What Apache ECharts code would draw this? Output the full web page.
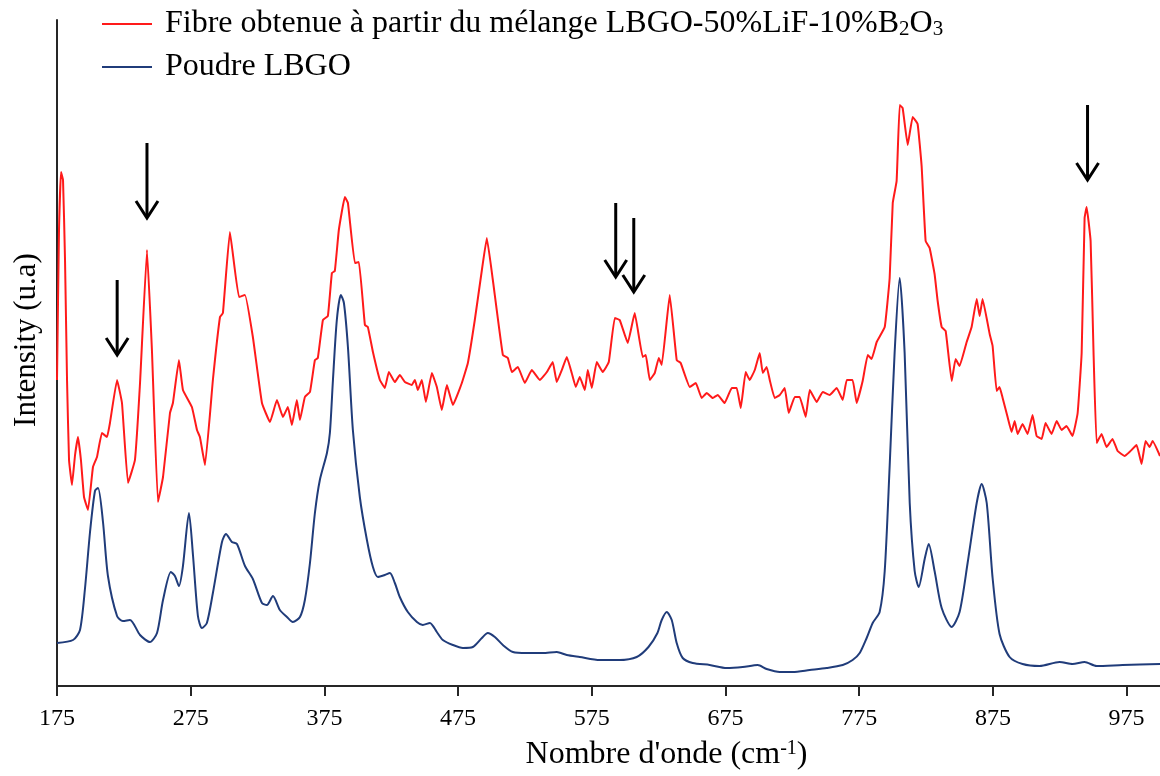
<!DOCTYPE html>
<html>
<head>
<meta charset="utf-8">
<script src="https://cdn.jsdelivr.net/npm/echarts@6/dist/echarts.min.js"></script>
<style>
  html, body { margin: 0; padding: 0; background: #fff; }
  #chart { width: 1160px; height: 776px; }
</style>
</head>
<body>
<div id="chart"></div>
<script>
// Raman spectra: fibre (LBGO-50%LiF-10%B2O3 mix) and LBGO powder, arbitrary intensity units
const fibreWavenumber = [
  175.0, 176.5, 178.0, 179.5, 181.0, 182.5, 184.0, 186.2, 188.5, 190.7, 192.9, 195.2, 198.2, 201.9, 204.9,
  208.6, 212.4, 214.6, 219.9, 223.6, 228.1, 233.3, 237.1, 242.3, 246.0, 250.5, 254.3, 259.5, 261.7, 266.2,
  269.2, 275.9, 279.7, 281.9, 285.7, 291.6, 296.9, 299.1, 304.3, 311.1, 315.6, 321.5, 328.3, 334.3, 339.5,
  344.0, 347.7, 350.7, 354.4, 356.7, 360.4, 364.2, 367.9, 370.1, 373.9, 377.6, 380.6, 382.8, 385.8, 390.3,
  392.6, 397.8, 400.8, 405.3, 407.5, 411.3, 416.5, 420.2, 423.2, 427.7, 431.4, 435.2, 440.4, 442.7, 444.9,
  447.9, 450.9, 455.4, 459.1, 462.8, 466.6, 471.1, 477.8, 482.3, 487.5, 492.8, 496.5, 501.0, 508.5, 512.2,
  515.2, 519.7, 524.9, 530.1, 536.1, 541.4, 545.8, 548.8, 552.6, 556.3, 560.0, 563.0, 566.0, 569.8, 572.0,
  575.0, 578.7, 583.2, 587.7, 592.2, 595.9, 601.9, 607.1, 613.1, 615.4, 618.4, 622.1, 625.1, 627.3, 633.3,
  638.5, 641.5, 648.3, 652.8, 657.2, 661.0, 665.5, 669.2, 674.4, 679.7, 683.4, 686.4, 690.1, 693.1, 696.9,
  700.6, 702.9, 705.8, 708.1, 711.8, 715.6, 719.3, 722.3, 726.8, 730.5, 735.0, 738.0, 743.2, 747.7, 752.9,
  758.2, 762.7, 765.7, 770.1, 773.1, 777.6, 781.4, 784.3, 788.1, 794.1, 797.8, 800.1, 803.0, 805.3, 807.5,
  811.3, 815.0, 818.7, 821.7, 824.7, 827.7, 831.4, 833.7, 836.7, 839.7, 844.2, 847.1, 850.1, 855.4, 859.1,
  862.9, 865.1, 867.3, 872.6, 874.8, 877.8, 880.0, 882.3, 886.0, 889.0, 891.3, 893.5, 897.2, 901.0, 904.7,
  907.7, 911.5, 914.4, 918.9, 922.7, 926.4, 930.1, 934.6, 938.4, 941.4, 943.6, 945.1, 948.1, 950.3, 952.6,
  956.3, 960.0, 964.5, 968.3, 973.5, 977.2, 982.5, 986.2, 989.2, 992.2, 994.5, 1000.0
];
const fibreIntensity = [
  306, 456, 514, 506, 426, 306, 226, 201, 231, 249, 226, 189, 176, 219, 229,
  253, 249, 263, 306, 283, 203, 226, 303, 436, 336, 184, 209, 273, 283, 326,
  296, 279, 256, 249, 221, 306, 369, 373, 454, 389, 391, 349, 283, 264, 286,
  269, 279, 261, 286, 266, 289, 294, 326, 328, 366, 370, 413, 415, 456, 489,
  483, 423, 424, 361, 359, 334, 306, 298, 314, 304, 311, 304, 301, 306, 296,
  306, 284, 313, 299, 276, 301, 281, 303, 323, 366, 416, 448, 406, 331, 328,
  314, 319, 303, 316, 306, 314, 324, 304, 316, 329, 313, 299, 309, 296, 316,
  298, 324, 314, 324, 368, 366, 343, 373, 329, 331, 306, 313, 328, 321, 391,
  326, 323, 299, 303, 288, 293, 288, 291, 283, 298, 298, 278, 314, 306, 316,
  333, 313, 319, 306, 288, 291, 298, 273, 289, 289, 269, 296, 284, 294, 291,
  298, 286, 306, 306, 283, 305, 331, 327, 344, 359, 408, 483, 505, 581, 578,
  541, 569, 562, 520, 445, 438, 412, 385, 359, 355, 305, 327, 320, 344, 359,
  387, 370, 387, 352, 340, 295, 299, 288, 269, 254, 265, 252, 262, 252, 271,
  250, 247, 263, 252, 265, 256, 260, 250, 273, 333, 468, 479, 445, 333, 243,
  252, 239, 247, 235, 230, 234, 241, 222, 245, 239, 245, 230
];

const powderWavenumber = [
  175.0, 187.0, 192.2, 195.9, 199.7, 203.4, 205.7, 209.4, 213.1, 219.9, 224.3, 229.6, 237.1, 244.5, 249.8,
  254.3, 260.2, 263.2, 266.2, 269.2, 273.7, 276.7, 280.4, 283.4, 287.1, 291.6, 298.4, 301.4, 305.8, 309.6,
  315.6, 321.5, 328.3, 332.0, 336.5, 341.7, 347.0, 351.4, 356.7, 360.4, 364.2, 367.9, 371.6, 376.9, 379.1,
  381.4, 384.3, 387.3, 389.6, 392.6, 396.3, 401.5, 406.8, 411.3, 415.0, 420.2, 424.0, 427.7, 431.4, 437.4,
  444.2, 448.6, 453.9, 459.1, 463.6, 471.1, 478.6, 486.0, 492.8, 497.2, 502.5, 508.5, 516.0, 526.4, 538.4,
  548.8, 556.3, 566.0, 581.0, 596.0, 608.6, 617.4, 624.1, 627.3, 631.1, 634.8, 638.5, 643.0, 650.5, 663.2,
  675.9, 687.9, 699.1, 705.8, 715.6, 725.3, 738.0, 750.7, 762.7, 770.1, 775.4, 780.6, 785.1, 790.3, 794.1,
  797.8, 801.5, 805.3, 809.0, 812.8, 816.5, 819.5, 824.0, 827.0, 831.4, 836.7, 844.2, 850.1, 856.1, 862.9,
  866.6, 870.4, 874.8, 880.0, 887.5, 897.2, 909.9, 924.9, 934.6, 943.6, 952.6, 972.0, 1000.0
];
const powderIntensity = [
  43, 46, 56, 97, 154, 195, 198, 164, 110, 70, 65, 66, 51, 44, 53,
  86, 114, 110, 100, 120, 173, 131, 70, 58, 63, 93, 144, 152, 144, 142,
  120, 107, 83, 81, 90, 76, 69, 64, 69, 86, 123, 173, 206, 233, 253,
  306, 366, 391, 383, 339, 256, 189, 146, 119, 109, 111, 113, 103, 89, 74,
  64, 61, 63, 54, 46, 41, 38, 39, 48, 53, 49, 41, 34, 33, 33,
  34, 31, 29, 26, 26, 29, 39, 53, 66, 74, 66, 43, 28, 23, 21,
  18, 19, 21, 17, 14, 14, 16, 18, 21, 26, 33, 48, 63, 74, 115,
  220, 333, 408, 333, 183, 115, 99, 127, 142, 115, 78, 59, 74, 123, 183,
  202, 183, 108, 52, 29, 22, 20, 24, 22, 24, 20, 21, 22
];

// Fibre bands marked with arrows: wavenumber, arrow tail and arrow tip intensity
const arrowWavenumber = [220.0, 242.3, 592.9, 606.4, 945.8];
const arrowTail = [406, 543, 483, 468, 581];
const arrowTip = [331, 468, 409, 394, 506];

const xTicks = [175, 275, 375, 475, 575, 675, 775, 875, 975];

const fibreName = 'Fibre obtenue à partir du mélange LBGO-50%LiF-10%B2O3';
const powderName = 'Poudre LBGO';

const zip = (xs, ys) => xs.map((x, i) => [x, ys[i]]);
const arrows = arrowWavenumber.map((x, i) => [x, arrowTail[i], arrowTip[i]]);

const FONT = '"Liberation Serif", "Times New Roman", serif';
const AXIS_COLOR = '#262626';
const RED = '#ff1a1a';
const BLUE = '#203c7a';

const chart = echarts.init(document.getElementById('chart'), null, { renderer: 'canvas' });

chart.setOption({
  animation: false,
  backgroundColor: '#ffffff',
  textStyle: { fontFamily: FONT, color: '#000' },
  grid: { left: 57, right: 0, top: 20, bottom: 90, containLabel: false },
  legend: {
    data: [
      { name: fibreName, icon: 'rect', itemStyle: { color: RED } },
      { name: powderName, icon: 'rect', itemStyle: { color: BLUE } }
    ],
    orient: 'vertical',
    left: 97,
    top: 3,
    itemWidth: 50,
    itemHeight: 2,
    itemGap: 11,
    selectedMode: false,
    formatter: function (name) {
      if (name === fibreName) {
        return 'Fibre obtenue à partir du mélange LBGO-50%LiF-10%B{sub|2}O{sub|3}';
      }
      return name;
    },
    textStyle: {
      fontFamily: FONT,
      fontSize: 32,
      lineHeight: 32,
      color: '#000',
      padding: [0, 0, 0, 8],
      rich: {
        sub: { fontFamily: FONT, fontSize: 21, lineHeight: 32, verticalAlign: 'bottom', color: '#000' }
      }
    }
  },
  xAxis: {
    type: 'value',
    min: 175,
    max: 1000,
    name: "Nombre d'onde (cm{sup|-1})",
    nameLocation: 'middle',
    nameGap: 53,
    nameTextStyle: {
      fontFamily: FONT,
      fontSize: 32,
      lineHeight: 32,
      color: '#000',
      padding: [0, 0, 0, 116],
      rich: {
        sup: { fontFamily: FONT, fontSize: 20, lineHeight: 32, verticalAlign: 'top', color: '#000' }
      }
    },
    axisLine: { show: true, lineStyle: { color: AXIS_COLOR, width: 2 } },
    axisTick: { show: true, length: 10, customValues: xTicks, lineStyle: { color: AXIS_COLOR, width: 2 } },
    axisLabel: { customValues: xTicks, margin: 21, fontFamily: FONT, fontSize: 24, color: '#000' },
    splitLine: { show: false }
  },
  yAxis: {
    type: 'value',
    min: 0,
    max: 666,
    name: 'Intensity (u.a)',
    nameLocation: 'middle',
    nameGap: 15,
    nameRotate: 90,
    nameTextStyle: {
      fontFamily: FONT,
      fontSize: 31,
      lineHeight: 31,
      color: '#000',
      padding: [0, 0, 0, 26]
    },
    axisLine: { show: true, lineStyle: { color: AXIS_COLOR, width: 2 } },
    axisTick: { show: false },
    axisLabel: { show: false },
    splitLine: { show: false }
  },
  series: [
    {
      name: powderName,
      type: 'line',
      data: zip(powderWavenumber, powderIntensity),
      symbol: 'none',
      smooth: 0.25,
      lineStyle: { color: BLUE, width: 2 },
      itemStyle: { color: BLUE },
      z: 2
    },
    {
      name: fibreName,
      type: 'line',
      data: zip(fibreWavenumber, fibreIntensity),
      symbol: 'none',
      smooth: 0.1,
      lineStyle: { color: RED, width: 2 },
      itemStyle: { color: RED },
      z: 3
    },
    {
      name: 'arrows',
      type: 'custom',
      data: arrows,
      encode: { x: 0, y: [1, 2] },
      silent: true,
      z: 4,
      renderItem: function (params, api) {
        const x = api.value(0);
        const tail = api.coord([x, api.value(1)]);
        const tip = api.coord([x, api.value(2)]);
        const style = { stroke: '#000', lineWidth: 3, fill: null, lineJoin: 'miter' };
        return {
          type: 'group',
          children: [
            { type: 'line', shape: { x1: tail[0], y1: tail[1], x2: tip[0], y2: tip[1] - 1 }, style: style },
            { type: 'polyline', shape: { points: [[tip[0] - 11, tip[1] - 17], [tip[0], tip[1]], [tip[0] + 11, tip[1] - 17]] }, style: style }
          ]
        };
      }
    }
  ]
});
</script>
</body>
</html>
